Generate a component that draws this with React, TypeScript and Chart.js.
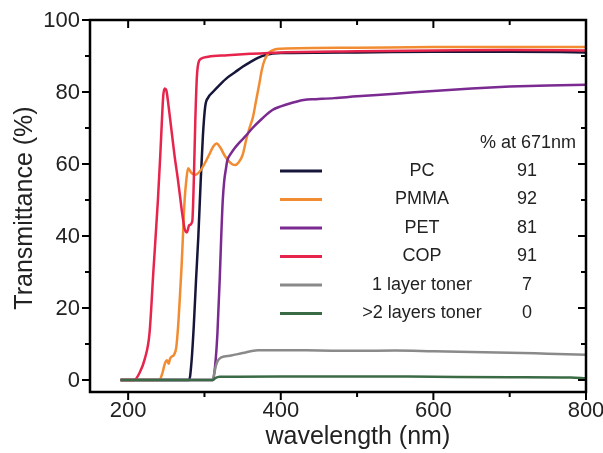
import React, { useEffect, useRef } from "react";
import { Chart, registerables } from "chart.js";

Chart.register(...registerables);

const FONT = '"Liberation Sans", Arial, sans-serif';
const TEXT = "#222";

// wavelength (nm) / transmittance (%)
const pcX = [190, 280, 283, 286, 289, 292, 295, 298, 301, 305, 311, 320, 330, 340, 350, 360, 370, 380, 400, 500, 600, 700, 800];
const pcY = [0, 0, 5, 15, 28, 40, 55, 68, 76, 78.5, 80, 82, 84, 85.5, 87, 88.3, 89.5, 90.3, 90.8, 91, 91.2, 91.2, 91];

const pmmaX = [190, 241, 245, 248, 251, 253, 255, 257, 260, 263, 265.5, 267.5, 270, 272, 274, 276, 278.5, 283, 288, 294, 300, 306, 312, 316, 321, 326, 331, 336, 340, 345, 350, 355, 359, 363.5, 368, 372, 375, 379, 385, 392, 400, 500, 600, 700, 800];
const pmmaY = [0, 0, 2, 4.5, 5.5, 4.5, 6, 6.5, 7, 9, 15, 22, 31.5, 41, 50, 55, 58.8, 57.5, 57, 58, 60, 62.5, 65, 65.7, 64.5, 62.5, 61, 60, 59.7, 60.5, 62.5, 67, 70, 73, 78, 82.4, 86, 89, 91, 91.8, 92, 92.3, 92.5, 92.5, 92.5];

const petX = [190, 311, 314, 317, 320, 322, 324, 326, 328, 330, 335, 340, 346, 355, 363, 375, 389, 400, 415, 430, 446, 470, 500, 550, 600, 650, 700, 750, 800];
const petY = [0, 0, 4, 13, 28, 40, 50, 55.5, 58.5, 61, 63, 64.5, 66, 68, 70, 72.5, 75, 76, 77, 77.8, 78, 78.3, 78.8, 79.5, 80.3, 81, 81.5, 81.8, 82];

const copX = [190, 208, 215, 222, 228, 233, 239, 242, 244, 246, 248, 250, 253, 257, 261, 265, 268, 271, 274, 277, 280, 284, 286, 288, 290, 292, 296, 305, 330, 360, 400, 500, 600, 700, 800];
const copY = [0, 0, 2, 6, 13, 30, 50, 62, 71, 79, 81, 80.5, 76, 69, 62, 56, 51, 46, 42, 41, 43, 44, 55, 72, 84, 88, 89.3, 89.8, 90.2, 90.6, 91, 91.3, 91.5, 91.7, 91.5];

const toner1X = [190, 311, 313, 315, 318, 322, 335, 350, 370, 400, 450, 500, 550, 600, 650, 700, 750, 800];
const toner1Y = [0, 0, 2, 4, 5.5, 6.3, 6.8, 7.5, 8.3, 8.3, 8.2, 8.1, 8.2, 8, 7.8, 7.6, 7.3, 7];

const toner2X = [190, 311, 314, 320, 400, 500, 600, 700, 780, 800];
const toner2Y = [0, 0, 0.5, 0.9, 1, 1, 0.9, 0.8, 0.7, 0.5];

const legendLabels = ["PC", "PMMA", "PET", "COP", "1 layer toner", ">2 layers toner"];
const valuesAt671 = [91, 92, 81, 91, 7, 0];
const legendHeader = "% at 671nm";
const colors = ["#16163a", "#f28c32", "#7a2a90", "#e6244c", "#8a8a8a", "#3b6b45"];

const xTicks = [200, 300, 400, 500, 600, 700, 800];
const yTicks = [0, 10, 20, 30, 40, 50, 60, 70, 80, 90, 100];
const xLabels = [200, 400, 600, 800];
const yLabels = [0, 20, 40, 60, 80, 100];

const seriesX = [pcX, pmmaX, petX, copX, toner1X, toner2X];
const seriesY = [pcY, pmmaY, petY, copY, toner1Y, toner2Y];

const framePlugin = {
  id: "frame",
  afterDraw(chart: any) {
    const ctx = chart.ctx;
    const { left, right, top, bottom } = chart.chartArea;
    const xs = chart.scales.x;
    const ys = chart.scales.y;
    ctx.save();
    ctx.strokeStyle = "#000";
    ctx.lineWidth = 2.5;
    ctx.strokeRect(left, top, right - left, bottom - top);
    ctx.lineWidth = 2;
    ctx.beginPath();
    xTicks.forEach((v) => {
      const px = xs.getPixelForValue(v);
      const len = v % 200 === 0 ? 8 : 5;
      ctx.moveTo(px, bottom);
      ctx.lineTo(px, bottom + len);
      ctx.moveTo(px, top);
      ctx.lineTo(px, top + len);
    });
    yTicks.forEach((v) => {
      const py = ys.getPixelForValue(v);
      const len = v % 20 === 0 ? 8 : 5;
      ctx.moveTo(left, py);
      ctx.lineTo(left - len, py);
      ctx.moveTo(right, py);
      ctx.lineTo(right - len, py);
    });
    ctx.stroke();

    // tick labels
    ctx.fillStyle = TEXT;
    ctx.font = `22px ${FONT}`;
    ctx.textBaseline = "middle";
    ctx.textAlign = "center";
    xLabels.forEach((v) => {
      ctx.fillText(String(v), xs.getPixelForValue(v), bottom + 19);
    });
    ctx.textAlign = "right";
    yLabels.forEach((v) => {
      ctx.fillText(String(v), left - 10, ys.getPixelForValue(v) + 1);
    });

    // axis titles
    ctx.font = `25px ${FONT}`;
    ctx.textAlign = "center";
    ctx.fillText("wavelength (nm)", left + (right - left) * 0.54, bottom + 45);
    ctx.save();
    ctx.translate(25, (top + bottom) / 2 + 2);
    ctx.rotate(-Math.PI / 2);
    ctx.fillText("Transmittance (%)", 0, 0);
    ctx.restore();

    // legend table
    const lx0 = left + 190;
    const lx1 = left + 232;
    const tx = left + 332;
    const vx = left + 437;
    const y0 = top + 151;
    const dy = 28.5;
    ctx.font = `18px ${FONT}`;
    ctx.fillText(legendHeader, vx + 1, top + 123);
    legendLabels.forEach((lab, i) => {
      const y = y0 + i * dy;
      ctx.strokeStyle = colors[i];
      ctx.lineWidth = 3;
      ctx.beginPath();
      ctx.moveTo(lx0, y);
      ctx.lineTo(lx1, y);
      ctx.stroke();
      ctx.fillStyle = TEXT;
      ctx.fillText(lab, tx, y);
      ctx.fillText(String(valuesAt671[i]), vx, y);
    });
    ctx.restore();
  },
};

export default function App() {
  const ref = useRef<HTMLCanvasElement>(null);
  useEffect(() => {
    if (!ref.current) return;
    const datasets = legendLabels.map((lab, i) => ({
      label: lab,
      data: seriesX[i].map((x, j) => ({ x, y: seriesY[i][j] })),
      borderColor: colors[i],
      borderWidth: 2.5,
      pointRadius: 0,
      fill: false,
      cubicInterpolationMode: "monotone" as const,
    }));
    const chart = new Chart(ref.current, {
      type: "line",
      data: { datasets: datasets.slice().reverse() },
      options: {
        animation: false,
        responsive: false,
        layout: { padding: { top: 20, right: 17, left: 0, bottom: 0 } },
        plugins: { legend: { display: false }, tooltip: { enabled: false } },
        scales: {
          x: {
            type: "linear",
            min: 150,
            max: 800,
            afterBuildTicks: (s: any) => {
              s.ticks = xTicks.map((v) => ({ value: v }));
            },
            afterFit: (s: any) => {
              s.height = 61;
            },
            grid: { display: false },
            border: { display: false },
            ticks: { display: false },
          },
          y: {
            type: "linear",
            min: -3.33,
            max: 100,
            afterBuildTicks: (s: any) => {
              s.ticks = yTicks.map((v) => ({ value: v }));
            },
            afterFit: (s: any) => {
              s.width = 90;
            },
            grid: { display: false },
            border: { display: false },
            ticks: { display: false },
          },
        },
      },
      plugins: [framePlugin],
    });
    return () => chart.destroy();
  }, []);
  return (
    <div style={{ position: "absolute", left: 0, top: 0, width: 603, height: 453 }}>
      <canvas ref={ref} width={603} height={453} style={{ display: "block" }} />
    </div>
  );
}
